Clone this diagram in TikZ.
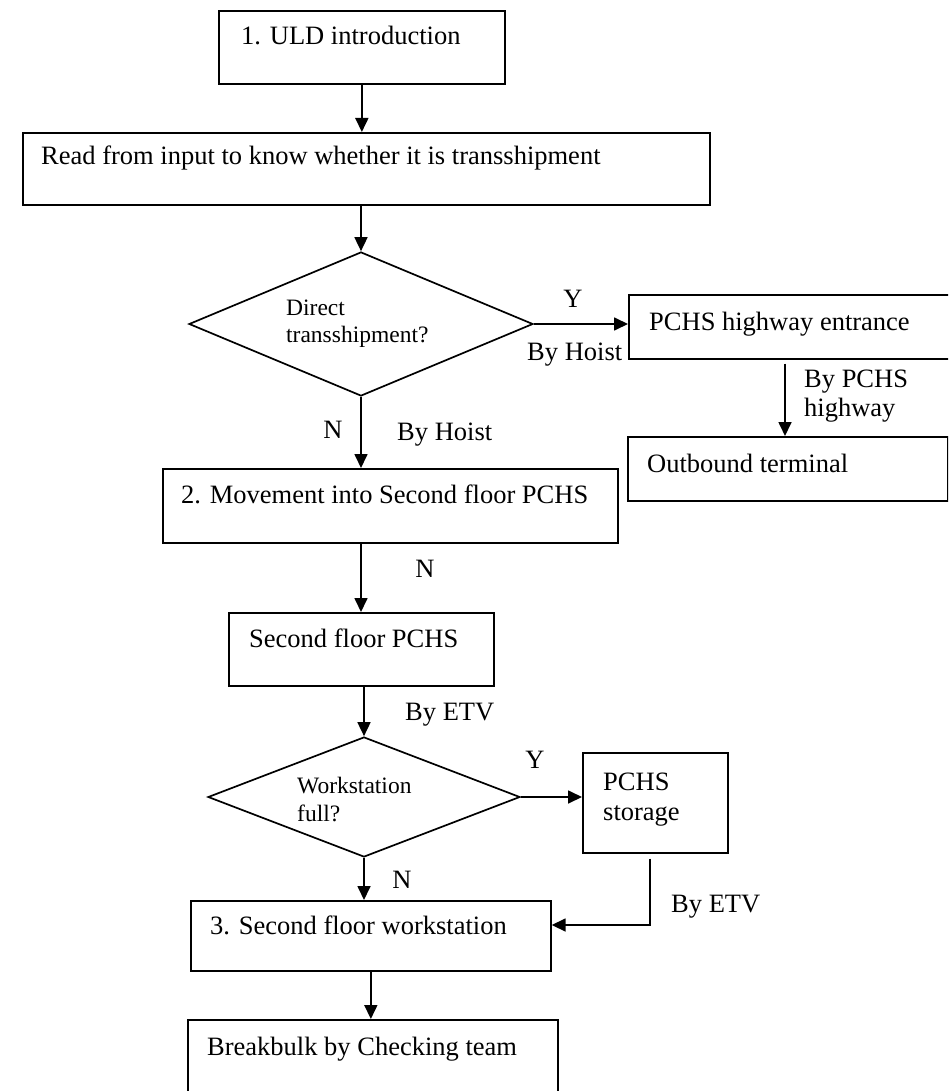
\documentclass[tikz,border=0pt]{standalone}
\usepackage{fontspec}
\setmainfont{Liberation Serif}
\usetikzlibrary{arrows.meta,shapes.geometric}
\begin{document}
\begin{tikzpicture}[x=1pt,y=-1pt,
  box/.style={draw, line width=1.7pt, inner sep=0, anchor=north west},
  dia/.style={draw, diamond, line width=1.7pt, inner sep=0, aspect=2.4},
  txt/.style={font=\fontsize{26.5}{30}\selectfont, inner sep=0, anchor=base west},
  dtxt/.style={font=\fontsize{23.5}{27}\selectfont, inner sep=0, anchor=base west},
  arr/.style={line width=1.7pt, -{Triangle[length=14pt,width=13pt]}},
  ln/.style={line width=1.7pt}]
\useasboundingbox (0,0) rectangle (948,1091);
\clip (0,0) rectangle (948,1091);
\fill[white] (0,0) rectangle (948,1091);

% boxes
\node[box, minimum width=286pt, minimum height=73pt] (uld) at (218,10) {};
\node[box, minimum width=687pt, minimum height=72pt] (read) at (22,132) {};
\node[dia, minimum width=344pt, minimum height=144pt] (d1) at (361,324) {};
\node[box, minimum width=360pt, minimum height=64pt] (ent) at (628,294) {};
\node[box, minimum width=320pt, minimum height=64pt] (out) at (627,436) {};
\node[box, minimum width=455pt, minimum height=74pt] (mov) at (162,468) {};
\node[box, minimum width=265pt, minimum height=73pt] (sp) at (228,612) {};
\node[dia, minimum width=312pt, minimum height=120pt] (d2) at (364,797) {};
\node[box, minimum width=145pt, minimum height=100pt] (st) at (582,752) {};
\node[box, minimum width=360pt, minimum height=70pt] (ws) at (190,900) {};
\node[box, minimum width=370pt, minimum height=80pt] (bb) at (187,1019) {};

% texts
\node[txt] (tuld) at (241,45) {1. ULD introduction};
\node[txt] (tread) at (41,165) {Read from input to know whether it is transshipment};
\node[dtxt] (td1a) at (286,315) {Direct};
\node[dtxt] (td1b) at (286,342) {transshipment?};
\node[txt] (tent) at (649,330) {PCHS highway entrance};
\node[txt] (tout) at (647,472) {Outbound terminal};
\node[txt] (tmov) at (181,503) {2. Movement into Second floor PCHS};
\node[txt] (tsp) at (249,647) {Second floor PCHS};
\node[dtxt] (td2a) at (297,793) {Workstation};
\node[dtxt] (td2b) at (297,821) {full?};
\node[txt] (tsta) at (603,790) {PCHS};
\node[txt] (tstb) at (603,820) {storage};
\node[txt] (tws) at (210,934) {3. Second floor workstation};
\node[txt] (tbb) at (207,1055) {Breakbulk by Checking team};

% connectors
\draw[arr] (uld.south) -- (uld.south |- read.north);
\draw[arr] (d1.north |- read.south) -- (d1.north);
\draw[arr] (d1.east) -- (d1.east -| ent.west);
\coordinate (ea) at ([xshift=157pt,yshift=-4pt]ent.south west);
\draw[arr] (ea) -- (ea |- out.north);
\draw[arr] (d1.south) -- (d1.south |- mov.north);
\draw[arr] (d1.south |- mov.south) -- (d1.south |- sp.north);
\draw[arr] (d2.north |- sp.south) -- (d2.north);
\draw[arr] (d2.east) -- (d2.east -| st.west);
\draw[arr] (d2.south) -- (d2.south |- ws.north);
\coordinate (sa) at ([xshift=68pt,yshift=-5pt]st.south west);
\coordinate (sb) at ([yshift=-25pt]ws.north east);
\draw[arr] (sa) |- (sb);
\draw[arr] (ws.south) -- (ws.south |- bb.north);

% labels
\node[txt, anchor=center] (ly1) at (573,299) {Y};
\node[txt] (lh1) at (527,360) {By Hoist};
\node[txt] (lp1) at (804,387) {By PCHS};
\node[txt] (lp2) at (804,416) {highway};
\node[txt, anchor=center] (ln1) at (333,430) {N};
\node[txt] (lh2) at (397,440) {By Hoist};
\node[txt, anchor=center] (ln2) at (425,569) {N};
\node[txt] (le1) at (405,720) {By ETV};
\node[txt, anchor=center] (ly2) at (535,760) {Y};
\node[txt, anchor=center] (ln3) at (402,880) {N};
\node[txt] (le2) at (671,912) {By ETV};
\end{tikzpicture}
\end{document}
